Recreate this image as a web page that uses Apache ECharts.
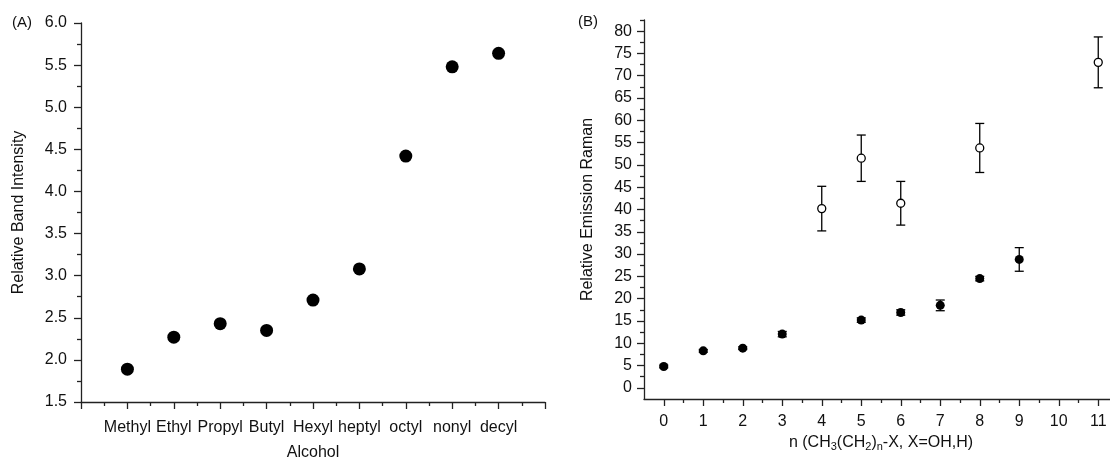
<!DOCTYPE html>
<html>
<head>
<meta charset="utf-8">
<script src="https://cdn.jsdelivr.net/npm/echarts@6/dist/echarts.min.js"></script>
<style>html,body{margin:0;padding:0;background:#fff;}#c{width:1110px;height:457px;}</style>
</head>
<body>
<div id="c"></div>
<script>
// Panel A data
const alcoholCategories = ['Methyl','Ethyl','Propyl','Butyl','Hexyl','heptyl','octyl','nonyl','decyl'];
const bandIntensity = [1.89, 2.27, 2.43, 2.35, 2.71, 3.08, 4.42, 5.48, 5.64];

// Panel B data: filled circles
const filledN = [0, 1, 2, 3, 5, 6, 7, 8, 9];
const filledVal = [4.8, 8.3, 8.9, 12.05, 15.2, 16.9, 18.5, 24.5, 28.8];
const filledErr = [0.3, 0.3, 0.3, 0.6, 0.5, 0.6, 1.2, 0.5, 2.65];

// Panel B data: open circles
const openN = [4, 5, 6, 8, 11];
const openVal = [40.2, 51.5, 41.4, 53.8, 73.0];
const openErr = [5.0, 5.2, 4.9, 5.5, 5.7];

// Tick values
const bXTicks = [0,1,2,3,4,5,6,7,8,9,10,11];
const bXMinor = [0.5,1.5,2.5,3.5,4.5,5.5,6.5,7.5,8.5,9.5,10.5,11.5];
const bYTicks = [0,5,10,15,20,25,30,35,40,45,50,55,60,65,70,75,80];
const bYMinor = [2.5,7.5,12.5,17.5,22.5,27.5,32.5,37.5,42.5,47.5,52.5,57.5,62.5,67.5,72.5,77.5,82.5];

const FONT = "'Liberation Sans', Arial, Helvetica, sans-serif";
const TXT = '#111';
const AX = '#222';
const FS = 16;

const lineStyle = {color: AX, width: 1.3};
const tickStyle = {color: AX, width: 1.3};

function errData(ns, vals, errs){
  return ns.map((n,i)=>[n, vals[i]-errs[i], vals[i]+errs[i]]);
}
function renderErr(params, api){
  const x = api.value(0), lo = api.value(1), hi = api.value(2);
  const p1 = api.coord([x, hi]);
  const p2 = api.coord([x, lo]);
  const w = 4.5;
  const st = {stroke: '#000', lineWidth: 1.3};
  return {type:'group', children:[
    {type:'line', shape:{x1:p1[0], y1:p1[1], x2:p2[0], y2:p2[1]}, style:st},
    {type:'line', shape:{x1:p1[0]-w, y1:p1[1], x2:p1[0]+w, y2:p1[1]}, style:st},
    {type:'line', shape:{x1:p2[0]-w, y1:p2[1], x2:p2[0]+w, y2:p2[1]}, style:st}
  ]};
}

const chart = echarts.init(document.getElementById('c'), null, {renderer:'canvas'});
const option = {
  animation: false,
  backgroundColor: '#fff',
  textStyle: {fontFamily: FONT, color: TXT},
  title: [
    {text: '(A)', left: 7, top: 10, textStyle: {fontSize: 15, fontWeight: 'normal', color: TXT, fontFamily: FONT}},
    {text: '(B)', left: 573, top: 9, textStyle: {fontSize: 15, fontWeight: 'normal', color: TXT, fontFamily: FONT}}
  ],
  grid: [
    {left: 81, top: 23, width: 464, height: 379, containLabel: false, outerBoundsMode: 'none'},
    {left: 644, top: 20, width: 474, height: 379, containLabel: false, outerBoundsMode: 'none'}
  ],
  xAxis: [
    {
      type: 'value', gridIndex: 0, min: 0, max: 10, interval: 1,
      name: 'Alcohol', nameLocation: 'middle', nameGap: 43,
      nameTextStyle: {fontSize: FS, color: TXT, fontFamily: FONT},
      axisLine: {show: true, lineStyle: lineStyle},
      axisTick: {show: true, length: 7, lineStyle: tickStyle},
      minorTick: {show: true, splitNumber: 2, length: 4, lineStyle: tickStyle},
      splitLine: {show: false},
      axisLabel: {fontSize: FS, color: TXT, margin: 18, fontFamily: FONT,
        formatter: v => (v >= 1 && v <= alcoholCategories.length) ? alcoholCategories[v-1] : ''}
    },
    {
      type: 'value', gridIndex: 1, min: -0.5, max: 11.5,
      name: '{n|n (CH}{s|3}{n|(CH}{s|2}{n|)}{s|n}{n|-X, X=OH,H)}',
      nameLocation: 'middle', nameGap: 30,
      nameTextStyle: {fontSize: FS, color: TXT, fontFamily: FONT,
        rich: {
          n: {fontSize: FS, color: TXT, fontFamily: FONT, lineHeight: 19},
          s: {fontSize: 11, color: TXT, fontFamily: FONT, lineHeight: 11, verticalAlign: 'bottom'}
        }},
      axisLine: {show: true, onZero: false, lineStyle: lineStyle},
      axisTick: {show: true, length: 7, lineStyle: tickStyle, customValues: bXTicks},
      splitLine: {show: false},
      axisLabel: {fontSize: FS, color: TXT, margin: 15, fontFamily: FONT, customValues: bXTicks}
    },
    {
      type: 'value', gridIndex: 1, min: -0.5, max: 11.5, position: 'bottom',
      axisLine: {show: false, onZero: false},
      axisTick: {show: true, length: 4, lineStyle: tickStyle, customValues: bXMinor},
      splitLine: {show: false},
      axisLabel: {show: false}
    }
  ],
  yAxis: [
    {
      type: 'value', gridIndex: 0, min: 1.5, max: 6, interval: 0.5,
      name: 'Relative Band Intensity', nameLocation: 'middle', nameGap: 54,
      nameTextStyle: {fontSize: FS, color: TXT, fontFamily: FONT},
      axisLine: {show: true, lineStyle: lineStyle},
      axisTick: {show: true, length: 7, lineStyle: tickStyle},
      minorTick: {show: true, splitNumber: 2, length: 4, lineStyle: tickStyle},
      splitLine: {show: false},
      axisLabel: {fontSize: FS, color: TXT, margin: 14, fontFamily: FONT, formatter: v => v.toFixed(1)}
    },
    {
      type: 'value', gridIndex: 1, min: -2.5, max: 82.5,
      name: 'Relative Emission Raman', nameLocation: 'middle', nameGap: 48,
      nameTextStyle: {fontSize: FS, color: TXT, fontFamily: FONT},
      axisLine: {show: true, onZero: false, lineStyle: lineStyle},
      axisTick: {show: true, length: 7, lineStyle: tickStyle, customValues: bYTicks},
      splitLine: {show: false},
      axisLabel: {fontSize: FS, color: TXT, margin: 12, fontFamily: FONT, customValues: bYTicks}
    },
    {
      type: 'value', gridIndex: 1, min: -2.5, max: 82.5, position: 'left',
      axisLine: {show: false, onZero: false},
      axisTick: {show: true, length: 4, lineStyle: tickStyle, customValues: bYMinor},
      splitLine: {show: false},
      axisLabel: {show: false}
    }
  ],
  series: [
    {
      type: 'scatter', xAxisIndex: 0, yAxisIndex: 0,
      data: alcoholCategories.map((c,i)=>[i+1, bandIntensity[i]]),
      symbol: 'circle', symbolSize: 13,
      itemStyle: {color: '#000', opacity: 1}
    },
    {
      type: 'custom', xAxisIndex: 1, yAxisIndex: 1, z: 1,
      data: errData(filledN, filledVal, filledErr),
      encode: {x: 0, y: [1, 2]},
      renderItem: renderErr
    },
    {
      type: 'custom', xAxisIndex: 1, yAxisIndex: 1, z: 1,
      data: errData(openN, openVal, openErr),
      encode: {x: 0, y: [1, 2]},
      renderItem: renderErr
    },
    {
      type: 'scatter', xAxisIndex: 1, yAxisIndex: 1, z: 3,
      data: filledN.map((n,i)=>[n, filledVal[i]]),
      symbol: 'circle', symbolSize: 9,
      itemStyle: {color: '#000', opacity: 1}
    },
    {
      type: 'scatter', xAxisIndex: 1, yAxisIndex: 1, z: 3,
      data: openN.map((n,i)=>[n, openVal[i]]),
      symbol: 'circle', symbolSize: 8,
      itemStyle: {color: '#fff', borderColor: '#000', borderWidth: 1.3, opacity: 1}
    }
  ]
};
chart.setOption(option);
</script>
</body>
</html>
